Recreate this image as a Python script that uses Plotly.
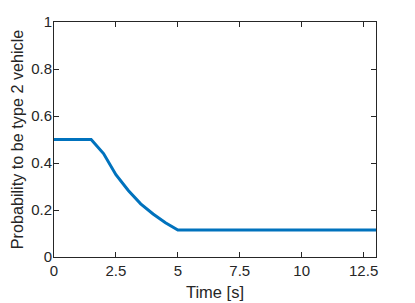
import plotly.graph_objects as go

time_s = [0, 1.5, 2, 2.5, 3, 3.5, 4, 4.5, 5, 13]
prob_type2 = [0.5, 0.5, 0.44, 0.35, 0.283, 0.226, 0.183, 0.146, 0.115, 0.115]

x_ticks = [0, 2.5, 5, 7.5, 10, 12.5]
x_ticklabels = ["0", "2.5", "5", "7.5", "10", "12.5"]
y_ticks = [0, 0.2, 0.4, 0.6, 0.8, 1]
y_ticklabels = ["0", "0.2", "0.4", "0.6", "0.8", "1"]

FONT = "Liberation Sans, Arial"
axis_common = dict(showline=True, linecolor="#262626", linewidth=1, mirror="ticks",
                   ticks="inside", ticklen=5, tickcolor="#262626", tickwidth=1,
                   showgrid=False, zeroline=False, automargin=False,
                   tickfont=dict(family=FONT, size=15, color="#262626"))

fig = go.Figure()
fig.add_trace(go.Scatter(x=time_s, y=prob_type2, mode="lines",
                         line=dict(color="#0072BD", width=3), showlegend=False))

fig.update_layout(
    width=415, height=303,
    margin=dict(l=54, r=39, t=22, b=46, autoexpand=False),
    paper_bgcolor="white", plot_bgcolor="white",
    xaxis=dict(range=[0, 13], tickvals=x_ticks, ticktext=x_ticklabels,
               ticklabelstandoff=0,
               title=dict(text="Time [s]", standoff=8,
                          font=dict(family=FONT, size=16.5, color="#262626")),
               **axis_common),
    yaxis=dict(range=[0, 1], tickvals=y_ticks, ticktext=y_ticklabels,
               ticklabelstandoff=-2,
               title=dict(text="Probability to be type 2 vehicle", standoff=3,
                          font=dict(family=FONT, size=16.2, color="#262626")),
               **axis_common),
)

fig.write_html("out.html", config={"displayModeBar": False},
               post_script="document.body.style.margin='0';")
